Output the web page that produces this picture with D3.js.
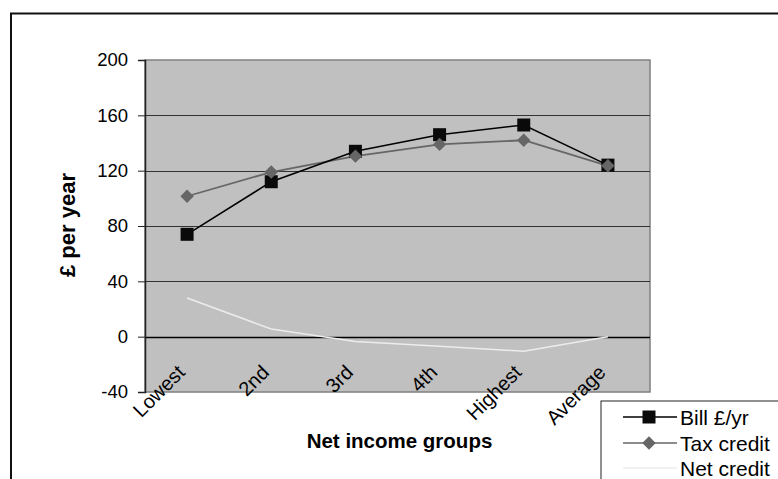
<!DOCTYPE html>
<html>
<head>
<meta charset="utf-8">
<script src="https://cdn.jsdelivr.net/npm/d3@7"></script>
<style>
  body { margin: 0; background: #fff; }
  text { font-family: "Liberation Sans", Arial, sans-serif; }
</style>
</head>
<body>
<div id="chart"></div>
<script>
// income groups along the bottom
var categories = ['Lowest', '2nd', '3rd', '4th', 'Highest', 'Average'];

// £ per year
var billValues = [74, 112, 134, 146, 153, 124];
var taxCreditValues = [101.5, 119, 130.5, 139, 142, 123.5];
var netCreditValues = [28, 5.5, -3.5, -7, -10.5, 0];

var yTicks = [-40, 0, 40, 80, 120, 160, 200];
var seriesNames = ['Bill £/yr', 'Tax credit', 'Net credit'];

var Chart = function () {
  var self = this;
  var svg = d3.select('#chart').append('svg')
    .attr('width', 778)
    .attr('height', 479);

  var plot = { left: 145, right: 650, top: 60, bottom: 392 };

  var x = d3.scaleBand().domain(categories).range([plot.left, plot.right]);
  var y = d3.scaleLinear().domain([-40, 200]).range([plot.bottom, plot.top]);
  var cx = function (d, i) { return x(categories[i]) + x.bandwidth() / 2; };

  self.draw = function () {
    // outer frame, runs off the right and bottom of the picture
    svg.append('rect')
      .attr('x', 11).attr('y', 13.5)
      .attr('width', 820).attr('height', 520)
      .attr('fill', 'none').attr('stroke', '#111').attr('stroke-width', 2);

    // plot area
    svg.append('rect')
      .attr('x', plot.left).attr('y', plot.top)
      .attr('width', plot.right - plot.left).attr('height', plot.bottom - plot.top)
      .attr('fill', '#c0c0c0').attr('stroke', '#808080').attr('stroke-width', 1.5);

    // gridlines
    svg.selectAll('line.grid').data(yTicks.filter(function (t) { return t > -40 && t < 200; }))
      .enter().append('line')
      .attr('class', 'grid')
      .attr('x1', plot.left).attr('x2', plot.right)
      .attr('y1', function (d) { return Math.round(y(d)) + 0.5; })
      .attr('y2', function (d) { return Math.round(y(d)) + 0.5; })
      .attr('stroke', function (d) { return d === 0 ? '#000' : '#333'; })
      .attr('stroke-width', function (d) { return d === 0 ? 1.3 : 1; });

    // y axis (plain hyphen for the minus sign, like the original)
    var yAxis = d3.axisLeft(y).tickValues(yTicks).tickSize(7).tickPadding(10)
      .tickFormat(function (d) { return String(d); });
    var gy = svg.append('g')
      .attr('transform', 'translate(' + plot.left + ',0)')
      .call(yAxis);
    gy.select('.domain').attr('stroke', '#222').attr('stroke-width', 1.5);
    gy.selectAll('.tick line').attr('stroke', '#222');
    gy.selectAll('.tick text')
      .attr('font-size', 18.5).attr('fill', '#000')
      .style('font-family', '"Liberation Sans", Arial, sans-serif');

    // category labels, hung off the zero line
    svg.selectAll('text.cat').data(categories)
      .enter().append('text')
      .attr('class', 'cat')
      .attr('text-anchor', 'end')
      .attr('font-size', 20)
      .attr('transform', function (d, i) {
        return 'translate(' + (cx(d, i) - 1) + ',' + (y(0) + 37) + ') rotate(-45)';
      })
      .text(function (d) { return d; });

    // axis titles
    svg.append('text')
      .attr('x', (plot.left + plot.right) / 2 + 2)
      .attr('y', 448)
      .attr('text-anchor', 'middle')
      .attr('font-size', 20.5).attr('font-weight', 'bold')
      .text('Net income groups');

    svg.append('text')
      .attr('transform', 'translate(75,225) rotate(-90)')
      .attr('text-anchor', 'middle')
      .attr('font-size', 22).attr('font-weight', 'bold')
      .text('£ per year');

    var line = d3.line()
      .x(function (d, i) { return cx(d, i); })
      .y(function (d) { return y(d); });

    // net credit - pale line, no markers
    svg.append('path').datum(netCreditValues)
      .attr('d', line)
      .attr('fill', 'none').attr('stroke', '#ececec').attr('stroke-width', 1.5);

    // tax credit
    svg.append('path').datum(taxCreditValues)
      .attr('d', line)
      .attr('fill', 'none').attr('stroke', '#666').attr('stroke-width', 1.8);

    // bill
    svg.append('path').datum(billValues)
      .attr('d', line)
      .attr('fill', 'none').attr('stroke', '#000').attr('stroke-width', 1.5);

    svg.selectAll('rect.bill').data(billValues)
      .enter().append('rect')
      .attr('class', 'bill')
      .attr('x', function (d, i) { return cx(d, i) - 6.5; })
      .attr('y', function (d) { return y(d) - 6.5; })
      .attr('width', 13).attr('height', 13)
      .attr('fill', '#0a0a0a');

    var diamond = d3.symbol().type(d3.symbolDiamond2).size(115);
    svg.selectAll('path.tax').data(taxCreditValues)
      .enter().append('path')
      .attr('class', 'tax')
      .attr('d', diamond)
      .attr('transform', function (d, i) { return 'translate(' + cx(d, i) + ',' + y(d) + ')'; })
      .attr('fill', '#666');

    // legend, also cut off by the picture edge
    var lg = svg.append('g').attr('transform', 'translate(601,401)');
    lg.append('rect')
      .attr('x', 0).attr('y', 0).attr('width', 200).attr('height', 100)
      .attr('fill', '#fff').attr('stroke', '#222').attr('stroke-width', 1);

    var rowY = [16, 42, 67];
    var rowColor = ['#000', '#666', '#ececec'];
    var rows = lg.selectAll('g.row').data(seriesNames)
      .enter().append('g')
      .attr('class', 'row')
      .attr('transform', function (d, i) { return 'translate(0,' + rowY[i] + ')'; });

    rows.append('line')
      .attr('x1', 22).attr('x2', 76).attr('y1', 0).attr('y2', 0)
      .attr('stroke', function (d, i) { return rowColor[i]; })
      .attr('stroke-width', 1.5);

    rows.filter(function (d, i) { return i === 0; }).append('rect')
      .attr('x', 41.5).attr('y', -6.5).attr('width', 13).attr('height', 13)
      .attr('fill', '#0a0a0a');

    rows.filter(function (d, i) { return i === 1; }).append('path')
      .attr('d', diamond)
      .attr('transform', 'translate(48,0)')
      .attr('fill', '#666');

    rows.append('text')
      .attr('x', 79).attr('y', 7.5)
      .attr('font-size', 21)
      .text(function (d) { return d; });
  };
};

var chart = new Chart();
chart.draw();
</script>
</body>
</html>
